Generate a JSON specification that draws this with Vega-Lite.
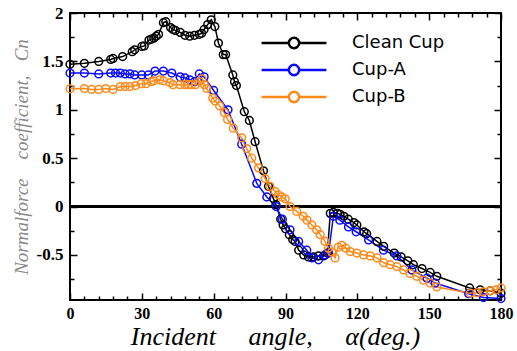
{
  "$schema": "https://vega.github.io/schema/vega-lite/v6.json",
  "autosize": "none",
  "padding": {"left": 70, "top": 13, "right": 16, "bottom": 51},
  "width": 431,
  "height": 287,
  "background": "white",
  "config": {
    "view": {"stroke": "black", "strokeWidth": 2},
    "axis": {"grid": false, "domain": false, "tickColor": "black", "tickWidth": 1.5,
      "labelFont": "Liberation Serif", "labelFontWeight": "bold", "labelFontSize": 17, "labelColor": "black"}
  },
  "data": {"values": [
    {"s":"Clean Cup","a":0,"cn":1.47},{"s":"Clean Cup","a":6,"cn":1.48},{"s":"Clean Cup","a":12,"cn":1.50},{"s":"Clean Cup","a":17,"cn":1.52},{"s":"Clean Cup","a":18,"cn":1.53},{"s":"Clean Cup","a":22,"cn":1.55},{"s":"Clean Cup","a":26,"cn":1.60},{"s":"Clean Cup","a":27,"cn":1.62},{"s":"Clean Cup","a":30,"cn":1.655},{"s":"Clean Cup","a":31,"cn":1.66},{"s":"Clean Cup","a":33,"cn":1.72},{"s":"Clean Cup","a":34,"cn":1.73},{"s":"Clean Cup","a":35,"cn":1.74},{"s":"Clean Cup","a":36,"cn":1.76},{"s":"Clean Cup","a":37,"cn":1.78},{"s":"Clean Cup","a":39,"cn":1.90},{"s":"Clean Cup","a":40,"cn":1.91},{"s":"Clean Cup","a":42,"cn":1.85},{"s":"Clean Cup","a":43,"cn":1.83},{"s":"Clean Cup","a":44,"cn":1.82},{"s":"Clean Cup","a":46,"cn":1.80},{"s":"Clean Cup","a":48,"cn":1.77},{"s":"Clean Cup","a":50,"cn":1.76},{"s":"Clean Cup","a":52,"cn":1.77},{"s":"Clean Cup","a":54,"cn":1.78},{"s":"Clean Cup","a":55,"cn":1.79},{"s":"Clean Cup","a":56,"cn":1.83},{"s":"Clean Cup","a":57.5,"cn":1.88},{"s":"Clean Cup","a":59,"cn":1.93},{"s":"Clean Cup","a":60.5,"cn":1.86},{"s":"Clean Cup","a":62,"cn":1.69},{"s":"Clean Cup","a":64,"cn":1.57},{"s":"Clean Cup","a":65,"cn":1.57},{"s":"Clean Cup","a":68,"cn":1.36},{"s":"Clean Cup","a":68.7,"cn":1.29},{"s":"Clean Cup","a":69.5,"cn":1.25},{"s":"Clean Cup","a":72.8,"cn":0.98},{"s":"Clean Cup","a":74.9,"cn":0.89},{"s":"Clean Cup","a":77.3,"cn":0.67},{"s":"Clean Cup","a":80.8,"cn":0.37},{"s":"Clean Cup","a":82.9,"cn":0.21},{"s":"Clean Cup","a":85,"cn":0.08},{"s":"Clean Cup","a":86,"cn":0.02},{"s":"Clean Cup","a":88,"cn":-0.13},{"s":"Clean Cup","a":89,"cn":-0.19},{"s":"Clean Cup","a":90,"cn":-0.23},{"s":"Clean Cup","a":91.6,"cn":-0.29},{"s":"Clean Cup","a":93,"cn":-0.34},{"s":"Clean Cup","a":94,"cn":-0.36},{"s":"Clean Cup","a":95.5,"cn":-0.45},{"s":"Clean Cup","a":97.6,"cn":-0.50},{"s":"Clean Cup","a":99.6,"cn":-0.52},{"s":"Clean Cup","a":101.7,"cn":-0.52},{"s":"Clean Cup","a":103.8,"cn":-0.51},{"s":"Clean Cup","a":105.9,"cn":-0.51},{"s":"Clean Cup","a":107.5,"cn":-0.48},{"s":"Clean Cup","a":108.7,"cn":-0.07},{"s":"Clean Cup","a":110,"cn":-0.06},{"s":"Clean Cup","a":111.7,"cn":-0.07},{"s":"Clean Cup","a":112.8,"cn":-0.08},{"s":"Clean Cup","a":114.4,"cn":-0.10},{"s":"Clean Cup","a":116.2,"cn":-0.13},{"s":"Clean Cup","a":118.6,"cn":-0.165},{"s":"Clean Cup","a":119.8,"cn":-0.19},{"s":"Clean Cup","a":122.8,"cn":-0.26},{"s":"Clean Cup","a":123.9,"cn":-0.28},{"s":"Clean Cup","a":128.2,"cn":-0.36},{"s":"Clean Cup","a":131,"cn":-0.41},{"s":"Clean Cup","a":135.4,"cn":-0.48},{"s":"Clean Cup","a":138.3,"cn":-0.52},{"s":"Clean Cup","a":141.1,"cn":-0.56},{"s":"Clean Cup","a":143.4,"cn":-0.60},{"s":"Clean Cup","a":147,"cn":-0.64},{"s":"Clean Cup","a":150.4,"cn":-0.68},{"s":"Clean Cup","a":153.2,"cn":-0.72},{"s":"Clean Cup","a":166.9,"cn":-0.84},{"s":"Clean Cup","a":171.3,"cn":-0.86},{"s":"Clean Cup","a":175.5,"cn":-0.87},{"s":"Clean Cup","a":180,"cn":-0.895},
    {"s":"Cup-A","a":0,"cn":1.38},{"s":"Cup-A","a":6,"cn":1.38},{"s":"Cup-A","a":12,"cn":1.37},{"s":"Cup-A","a":17,"cn":1.38},{"s":"Cup-A","a":19,"cn":1.38},{"s":"Cup-A","a":21,"cn":1.38},{"s":"Cup-A","a":23,"cn":1.37},{"s":"Cup-A","a":25,"cn":1.37},{"s":"Cup-A","a":27,"cn":1.36},{"s":"Cup-A","a":30,"cn":1.36},{"s":"Cup-A","a":32.7,"cn":1.36},{"s":"Cup-A","a":35.5,"cn":1.40},{"s":"Cup-A","a":39,"cn":1.40},{"s":"Cup-A","a":42.5,"cn":1.38},{"s":"Cup-A","a":46,"cn":1.34},{"s":"Cup-A","a":48,"cn":1.33},{"s":"Cup-A","a":50,"cn":1.31},{"s":"Cup-A","a":52,"cn":1.29},{"s":"Cup-A","a":54,"cn":1.37},{"s":"Cup-A","a":56,"cn":1.34},{"s":"Cup-A","a":60,"cn":1.20},{"s":"Cup-A","a":66,"cn":1.00},{"s":"Cup-A","a":71.7,"cn":0.645},{"s":"Cup-A","a":78,"cn":0.24},{"s":"Cup-A","a":82.2,"cn":0.10},{"s":"Cup-A","a":86.1,"cn":0.0},{"s":"Cup-A","a":88.7,"cn":-0.13},{"s":"Cup-A","a":91.9,"cn":-0.24},{"s":"Cup-A","a":95.5,"cn":-0.36},{"s":"Cup-A","a":98.9,"cn":-0.45},{"s":"Cup-A","a":101,"cn":-0.53},{"s":"Cup-A","a":103.8,"cn":-0.55},{"s":"Cup-A","a":106.6,"cn":-0.50},{"s":"Cup-A","a":108,"cn":-0.48},{"s":"Cup-A","a":110,"cn":-0.10},{"s":"Cup-A","a":112.7,"cn":-0.14},{"s":"Cup-A","a":116.3,"cn":-0.21},{"s":"Cup-A","a":119.5,"cn":-0.26},{"s":"Cup-A","a":124.7,"cn":-0.345},{"s":"Cup-A","a":130.9,"cn":-0.45},{"s":"Cup-A","a":136.5,"cn":-0.51},{"s":"Cup-A","a":142.8,"cn":-0.655},{"s":"Cup-A","a":149.1,"cn":-0.74},{"s":"Cup-A","a":152.5,"cn":-0.79},{"s":"Cup-A","a":166.5,"cn":-0.90},{"s":"Cup-A","a":172.7,"cn":-0.94},{"s":"Cup-A","a":180,"cn":-0.95},
    {"s":"Cup-B","a":0,"cn":1.217},{"s":"Cup-B","a":6,"cn":1.22},{"s":"Cup-B","a":9,"cn":1.21},{"s":"Cup-B","a":12,"cn":1.21},{"s":"Cup-B","a":15,"cn":1.22},{"s":"Cup-B","a":18,"cn":1.21},{"s":"Cup-B","a":21,"cn":1.24},{"s":"Cup-B","a":23,"cn":1.24},{"s":"Cup-B","a":25,"cn":1.24},{"s":"Cup-B","a":27.4,"cn":1.25},{"s":"Cup-B","a":29.7,"cn":1.27},{"s":"Cup-B","a":31.8,"cn":1.27},{"s":"Cup-B","a":33.8,"cn":1.29},{"s":"Cup-B","a":35,"cn":1.30},{"s":"Cup-B","a":37.5,"cn":1.31},{"s":"Cup-B","a":39,"cn":1.30},{"s":"Cup-B","a":41.8,"cn":1.28},{"s":"Cup-B","a":43,"cn":1.26},{"s":"Cup-B","a":46,"cn":1.26},{"s":"Cup-B","a":48,"cn":1.26},{"s":"Cup-B","a":49.5,"cn":1.26},{"s":"Cup-B","a":50.7,"cn":1.26},{"s":"Cup-B","a":52.4,"cn":1.26},{"s":"Cup-B","a":54,"cn":1.29},{"s":"Cup-B","a":55.1,"cn":1.32},{"s":"Cup-B","a":56.1,"cn":1.26},{"s":"Cup-B","a":57.1,"cn":1.22},{"s":"Cup-B","a":59.6,"cn":1.12},{"s":"Cup-B","a":60.6,"cn":1.09},{"s":"Cup-B","a":62.5,"cn":1.04},{"s":"Cup-B","a":64.5,"cn":0.97},{"s":"Cup-B","a":65.8,"cn":0.90},{"s":"Cup-B","a":68.2,"cn":0.81},{"s":"Cup-B","a":71.7,"cn":0.71},{"s":"Cup-B","a":73.8,"cn":0.60},{"s":"Cup-B","a":75.9,"cn":0.50},{"s":"Cup-B","a":78.7,"cn":0.40},{"s":"Cup-B","a":81.5,"cn":0.29},{"s":"Cup-B","a":83.5,"cn":0.21},{"s":"Cup-B","a":85.7,"cn":0.155},{"s":"Cup-B","a":87,"cn":0.12},{"s":"Cup-B","a":88.5,"cn":0.10},{"s":"Cup-B","a":89.9,"cn":0.08},{"s":"Cup-B","a":91.9,"cn":0.0},{"s":"Cup-B","a":94.7,"cn":-0.05},{"s":"Cup-B","a":97.4,"cn":-0.10},{"s":"Cup-B","a":99,"cn":-0.14},{"s":"Cup-B","a":101,"cn":-0.19},{"s":"Cup-B","a":103,"cn":-0.24},{"s":"Cup-B","a":104.5,"cn":-0.29},{"s":"Cup-B","a":106.5,"cn":-0.36},{"s":"Cup-B","a":107.9,"cn":-0.43},{"s":"Cup-B","a":109.3,"cn":-0.47},{"s":"Cup-B","a":110.7,"cn":-0.53},{"s":"Cup-B","a":112,"cn":-0.42},{"s":"Cup-B","a":113.5,"cn":-0.40},{"s":"Cup-B","a":115.2,"cn":-0.43},{"s":"Cup-B","a":117,"cn":-0.465},{"s":"Cup-B","a":119.8,"cn":-0.48},{"s":"Cup-B","a":122.6,"cn":-0.50},{"s":"Cup-B","a":125.4,"cn":-0.51},{"s":"Cup-B","a":128.2,"cn":-0.53},{"s":"Cup-B","a":131,"cn":-0.58},{"s":"Cup-B","a":133.7,"cn":-0.60},{"s":"Cup-B","a":136.5,"cn":-0.62},{"s":"Cup-B","a":139.3,"cn":-0.655},{"s":"Cup-B","a":142,"cn":-0.69},{"s":"Cup-B","a":144.8,"cn":-0.72},{"s":"Cup-B","a":147.6,"cn":-0.76},{"s":"Cup-B","a":150.4,"cn":-0.79},{"s":"Cup-B","a":153.2,"cn":-0.83},{"s":"Cup-B","a":167.2,"cn":-0.895},{"s":"Cup-B","a":170,"cn":-0.89},{"s":"Cup-B","a":172.5,"cn":-0.88},{"s":"Cup-B","a":175.5,"cn":-0.87},{"s":"Cup-B","a":178,"cn":-0.86},{"s":"Cup-B","a":180,"cn":-0.84}
  ]},
  "resolve": {"axis": {"x": "independent", "y": "independent"}},
  "layer": [
    {
      "mark": {"type": "rule", "color": "black", "strokeWidth": 1.5},
      "encoding": {"y": {"datum": 0, "type": "quantitative", "scale": {"domain": [-0.965, 2], "nice": false}, "axis": null}}
    },
    {
      "mark": {"type": "line", "strokeWidth": 1.5, "point": {"filled": false, "size": 60, "strokeWidth": 1.5}},
      "encoding": {
        "x": {"field": "a", "type": "quantitative", "scale": {"domain": [0, 180], "nice": false},
          "axis": {"title": "Incident\u00a0\u00a0\u00a0\u00a0\u00a0angle,\u00a0\u00a0\u00a0\u00a0\u00a0α(deg.)", "titleFont": "Liberation Serif", "titleFontStyle": "italic", "titleFontWeight": "normal", "titleFontSize": 26, "titleColor": "black", "titlePadding": -1, "titleX": 205,
            "values": [0,6,12,18,24,30,36,42,48,54,60,66,72,78,84,90,96,102,108,114,120,126,132,138,144,150,156,162,168,174,180],
            "labelExpr": "datum.value % 30 == 0 ? '' + datum.value : ''",
            "tickSize": {"condition": {"test": "datum.value % 30 == 0", "value": -7}, "value": -4},
            "labelFontSize": 16, "labelPadding": 12, "labelFlush": false, "labelOverlap": false}},
        "y": {"field": "cn", "type": "quantitative", "scale": {"domain": [-0.965, 2], "nice": false},
          "axis": {"title": "Normalforce\u00a0\u00a0\u00a0\u00a0coefficient,\u00a0\u00a0\u00a0Cn", "titleFont": "Liberation Serif", "titleFontStyle": "italic", "titleFontWeight": "normal", "titleFontSize": 19, "titleColor": "#8a8a8a", "titlePadding": 5,
            "values": [-0.75,-0.5,-0.25,0,0.25,0.5,0.75,1,1.25,1.5,1.75,2],
            "labelExpr": "(datum.value * 2) % 1 == 0 ? '' + datum.value : ''",
            "tickSize": {"condition": {"test": "(datum.value * 2) % 1 == 0", "value": -7}, "value": -4},
            "labelPadding": 14, "labelFlush": false, "labelOverlap": false}},
        "color": {"field": "s", "type": "nominal",
          "scale": {"domain": ["Clean Cup", "Cup-A", "Cup-B"], "range": ["#000000", "#0a0aff", "#ff8a1a"]},
          "legend": {"title": null, "orient": "none", "legendX": 208, "legendY": 14, "padding": 0, "rowPadding": 0,
            "symbolType": "M-2.2,0L-0.35,0M0.35,0L2.2,0M-0.35,0A0.35,0.35,0,1,1,0.35,0A0.35,0.35,0,1,1,-0.35,0",
            "symbolSize": 870, "symbolStrokeWidth": 2.5, "symbolFillColor": "transparent",
            "labelFont": "DejaVu Sans", "labelFontSize": 18, "labelColor": "black", "labelOffset": 42}}
      }
    },
    {
      "mark": {"type": "point", "opacity": 0},
      "encoding": {
        "x": {"field": "a", "type": "quantitative", "scale": {"domain": [0, 180], "nice": false},
          "axis": {"orient": "top", "title": null, "labels": false,
            "values": [0,6,12,18,24,30,36,42,48,54,60,66,72,78,84,90,96,102,108,114,120,126,132,138,144,150,156,162,168,174,180],
            "tickSize": {"condition": {"test": "datum.value % 30 == 0", "value": -7}, "value": -4}}},
        "y": {"field": "cn", "type": "quantitative", "scale": {"domain": [-0.965, 2], "nice": false},
          "axis": {"orient": "right", "title": null, "labels": false,
            "values": [-0.75,-0.5,-0.25,0,0.25,0.5,0.75,1,1.25,1.5,1.75,2],
            "tickSize": {"condition": {"test": "(datum.value * 2) % 1 == 0", "value": -7}, "value": -4}}}
      }
    }
  ]
}
